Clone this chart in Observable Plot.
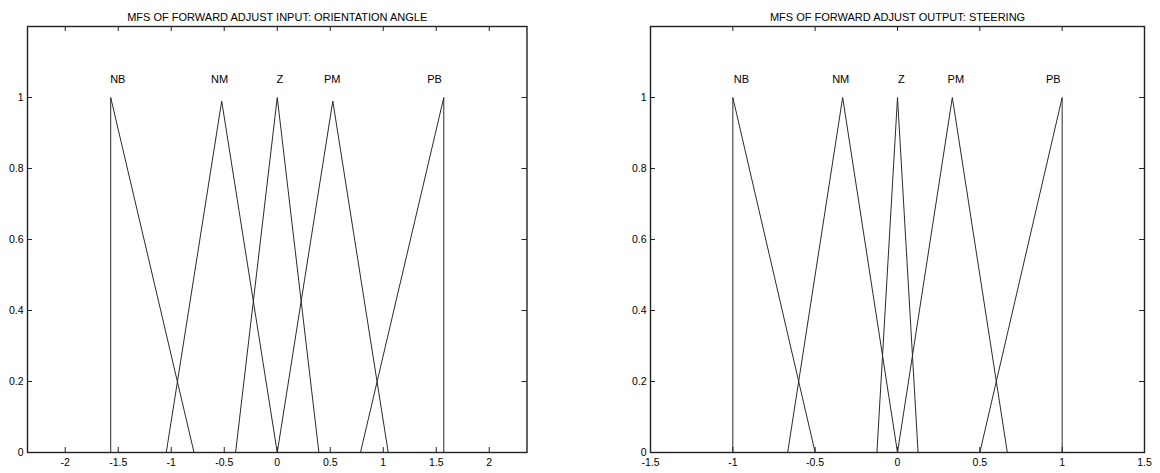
<!DOCTYPE html>
<html>
<head>
<meta charset="utf-8">
<script src="https://cdn.jsdelivr.net/npm/d3@7"></script>
<script src="https://cdn.jsdelivr.net/npm/@observablehq/plot@0.6"></script>
<style>
  body { margin: 0; background: #fff; }
  #chart { position: relative; width: 1160px; height: 473px; font-family: "Liberation Sans", Arial, Helvetica, sans-serif; }
  #chart svg { position: absolute; top: 0; }
</style>
</head>
<body>
<div id="chart"></div>
<script>
// Membership function names shared by both fuzzy variables
const mfNames = ["NB", "NM", "Z", "PM", "PB"];

// Input: orientation angle (radians)
const inputTitle = "MFS OF FORWARD ADJUST INPUT: ORIENTATION ANGLE";
const inputDomain = [-2.356, 2.356];
const inputTicks = [-2, -1.5, -1, -0.5, 0, 0.5, 1, 1.5, 2];
const inputX = [
  [-1.571, -1.571, -0.785],
  [-1.047, -0.524, 0],
  [-0.393, 0, 0.393],
  [0, 0.524, 1.047],
  [0.785, 1.571, 1.571]
];
const inputY = [
  [0, 1, 0],
  [0, 0.99, 0],
  [0, 1, 0],
  [0, 0.99, 0],
  [0, 1, 0]
];
const inputLabelAt = [-1.504, -0.544, 0.025, 0.519, 1.484];

// Output: steering
const outputTitle = "MFS OF FORWARD ADJUST OUTPUT: STEERING";
const outputDomain = [-1.5, 1.5];
const outputTicks = [-1.5, -1, -0.5, 0, 0.5, 1, 1.5];
const outputX = [
  [-1, -1, -0.5],
  [-0.667, -0.333, 0],
  [-0.125, 0, 0.125],
  [0, 0.333, 0.667],
  [0.5, 1, 1]
];
const outputY = [
  [0, 1, 0],
  [0, 1, 0],
  [0, 1, 0],
  [0, 1, 0],
  [0, 1, 0]
];
const outputLabelAt = [-0.948, -0.345, 0.024, 0.354, 0.946];

// Membership axis
const yDomain = [0, 1.2];
const yTicks = [0, 0.2, 0.4, 0.6, 0.8, 1];
const labelY = 1.05;

const H = 473, MT = 26, MB = 21, TICK = 5;

function panel({title, xs, ys, labelAt, domain, xTicks, left, width, marginLeft, marginRight}) {
  const rows = [];
  mfNames.forEach((name, i) => xs[i].forEach((x, j) => rows.push({name, x, y: ys[i][j]})));
  const plotH = H - MT - MB;
  const plotW = width - marginLeft - marginRight;
  const svg = Plot.plot({
    width, height: H, marginLeft, marginRight, marginTop: MT, marginBottom: MB,
    style: {fontFamily: '"Liberation Sans", Arial, Helvetica, sans-serif', fontSize: "10.5px", color: "#000", background: "transparent", overflow: "visible"},
    x: {domain, label: null},
    y: {domain: yDomain, label: null},
    marks: [
      Plot.line(rows, {x: "x", y: "y", z: "name", stroke: "#2a2a2a", strokeWidth: 1}),
      // inward ticks on all four sides
      Plot.tickX(xTicks, {x: d => d, insetTop: plotH - TICK, stroke: "#222"}),
      Plot.tickX(xTicks, {x: d => d, insetBottom: plotH - TICK, stroke: "#222"}),
      Plot.tickY(yTicks, {y: d => d, insetRight: plotW - TICK, stroke: "#222"}),
      Plot.tickY(yTicks, {y: d => d, insetLeft: plotW - TICK, stroke: "#222"}),
      Plot.axisX(xTicks, {anchor: "bottom", label: null, tickSize: 0, tickPadding: 6, tickFormat: d => String(d)}),
      Plot.axisY(yTicks, {anchor: "left", label: null, tickSize: 0, tickPadding: 4, tickFormat: d => String(d)}),
      Plot.text(mfNames, {x: (d, i) => labelAt[i], y: () => labelY, text: d => d, fontSize: 11, fill: "#000"}),
      Plot.text([title], {frameAnchor: "top", dy: -13, text: d => d, fontSize: 11, fill: "#000"}),
      Plot.frame({stroke: "#222", strokeWidth: 1.4})
    ]
  });
  svg.style.left = left + "px";
  return svg;
}

const chart = document.getElementById("chart");
chart.append(panel({
  title: inputTitle, xs: inputX, ys: inputY, labelAt: inputLabelAt,
  domain: inputDomain, xTicks: inputTicks,
  left: 0, width: 560, marginLeft: 27, marginRight: 33.5
}));
chart.append(panel({
  title: outputTitle, xs: outputX, ys: outputY, labelAt: outputLabelAt,
  domain: outputDomain, xTicks: outputTicks,
  left: 580, width: 580, marginLeft: 70, marginRight: 16
}));
</script>
</body>
</html>
